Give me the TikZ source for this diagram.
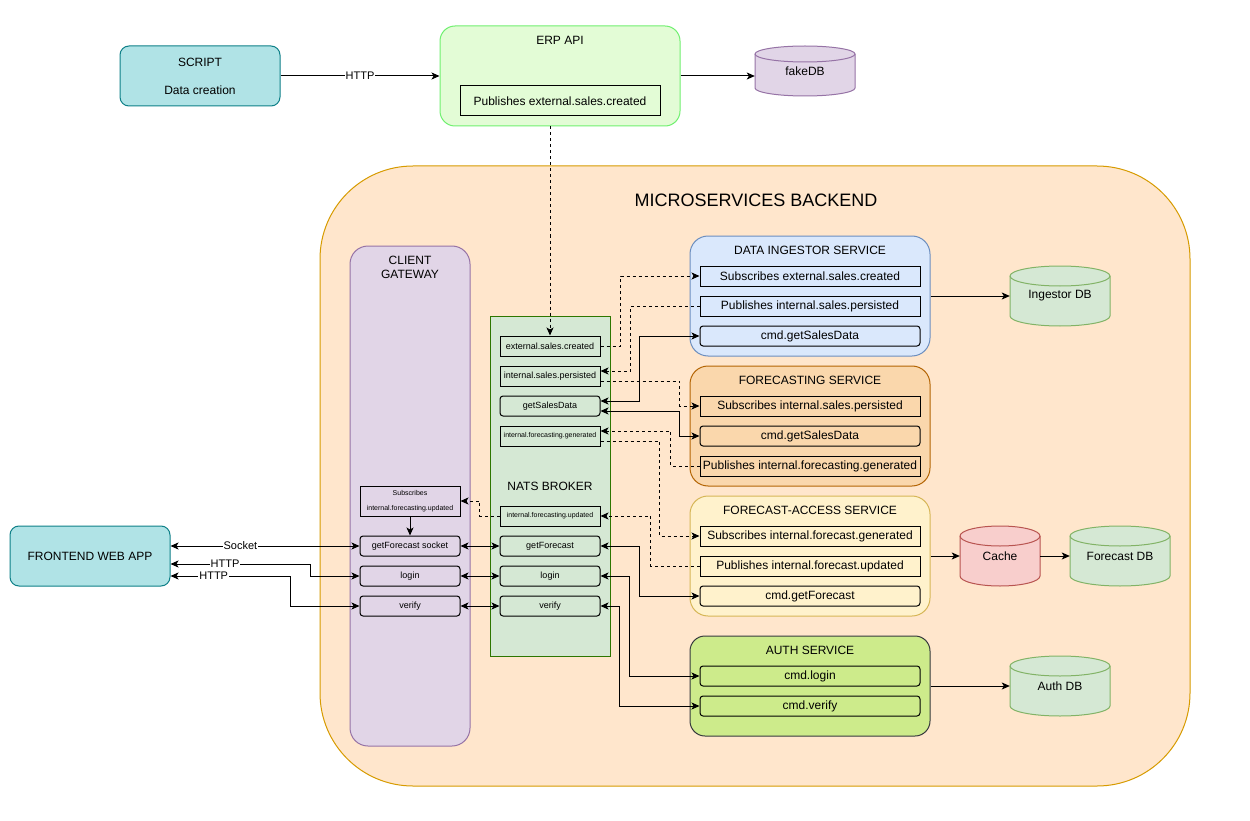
\documentclass[tikz,border=0pt]{standalone}
\usepackage{fontspec}
\setmainfont{Liberation Sans}
\usetikzlibrary{arrows.meta,calc}
\definecolor{cyanF}{HTML}{B0E3E6}\definecolor{cyanD}{HTML}{0E8088}
\definecolor{erpF}{HTML}{E3FCD6}\definecolor{erpD}{HTML}{70F070}
\definecolor{purF}{HTML}{E1D5E7}\definecolor{purD}{HTML}{9673A6}
\definecolor{bkF}{HTML}{FFE6CC}\definecolor{bkD}{HTML}{D79B00}
\definecolor{natF}{HTML}{D5E8D4}\definecolor{natD}{HTML}{2D7600}
\definecolor{bluF}{HTML}{DAE8FC}\definecolor{bluD}{HTML}{6C8EBF}
\definecolor{oraF}{HTML}{FAD7AC}\definecolor{oraD}{HTML}{B46504}
\definecolor{yelF}{HTML}{FFF2CC}\definecolor{yelD}{HTML}{D6B656}
\definecolor{limF}{HTML}{CDEB8B}\definecolor{limD}{HTML}{36393D}
\definecolor{grnF}{HTML}{D5E8D4}\definecolor{grnD}{HTML}{82B366}
\definecolor{redF}{HTML}{F8CECC}\definecolor{redD}{HTML}{B85450}
\newcommand{\fsz}[2]{\fontsize{#1}{#2}\selectfont}
\newcommand{\placebox}[7]{\node[#2, minimum width={(#5)-(#3)}, minimum height={(#6)-(#4)}] (#1) at ({((#3)+(#5))/2},{((#4)+(#6))/2}) {#7};}
% name, cx, cy, rx, half height, ry, fill, draw, text
\newcommand{\dbcyl}[9]{%
  \filldraw[fill=#7, draw=#8, line width=1pt] ({#2-#4},{#3-#5+#6}) -- ({#2-#4},{#3+#5-#6})
    arc[start angle=180, end angle=360, x radius=#4pt, y radius=#6pt] -- ({#2+#4},{#3-#5+#6})
    arc[start angle=0, end angle=180, x radius=#4pt, y radius=#6pt] -- cycle;
  \draw[draw=#8, line width=1pt] ({#2-#4},{#3-#5+#6}) arc[start angle=180, end angle=360, x radius=#4pt, y radius=#6pt];
  \node[minimum width={2*#4}, minimum height={2*#5}, font=\fsz{12}{14}] (#1) at (#2,#3) {#9};}
\begin{document}
\begin{tikzpicture}[x=1pt,y=-1pt,
  every node/.style={inner sep=0pt, text=black},
  >={Stealth[length=8pt,width=7pt,inset=2pt]},
  ln/.style={line width=1pt, draw=black},
  dsh/.style={ln, dash pattern=on 3pt off 3pt},
  base/.style={draw, line width=1pt, rectangle, font=\fsz{12}{14}},
  sitem/.style={base, minimum width=220pt, minimum height=20pt},
  ritem/.style={sitem, rounded corners=3pt},
  nsq/.style={base, font=\fsz{9}{11}},
  nrd/.style={nsq, rounded corners=3pt},
  ttl/.style={font=\fsz{12}{14}},
  lbl/.style={font=\fsz{11}{13}, fill=white, inner sep=1pt},
]
\useasboundingbox (0,0) rectangle (1250,821);
\fill[white] (0,0) rectangle (1250,821);

% top row
\placebox{script}{base, fill=cyanF, draw=cyanD, rounded corners=9pt, align=center, font=\fsz{12}{28}}{120}{46}{280}{106}{SCRIPT\\Data creation}
\placebox{erp}{base, fill=erpF, draw=erpD, rounded corners=15pt}{440}{26}{680}{126}{}
\node[ttl] (erpT) at (560,40) {ERP API};
\placebox{erpPub}{base, fill=erpF}{460}{86}{660}{116}{Publishes external.sales.created}
\dbcyl{fake}{805}{71}{50}{25}{8}{purF}{purD}{fakeDB}

% backend
\placebox{bk}{base, fill=bkF, draw=bkD, rounded corners=93pt}{320}{166}{1190}{786}{}
\node[font=\fsz{18}{21}] (bkT) at (756,200) {MICROSERVICES BACKEND};

% gateway
\placebox{gw}{base, fill=purF, draw=purD, rounded corners=18pt}{350}{246}{470}{746}{}
\node[ttl, align=center] (gwT) at (410,267) {CLIENT\\GATEWAY};
\placebox{gSub}{nsq, fill=purF, align=center, font=\fsz{7}{15}}{360}{486}{460}{516}{Subscribes\\internal.forecasting.updated}
\placebox{gSock}{nrd, fill=purF}{360}{536}{460}{556}{getForecast socket}
\placebox{gLg}{nrd, fill=purF}{360}{566}{460}{586}{login}
\placebox{gVf}{nrd, fill=purF}{360}{596}{460}{616}{verify}

% NATS
\placebox{nats}{base, fill=natF, draw=natD}{490}{316}{610}{656}{}
\node[ttl] (natsT) at (550,486) {NATS BROKER};
\placebox{nExt}{nsq, fill=natF}{500}{336}{600}{356}{external.sales.created}
\placebox{nIsp}{nsq, fill=natF}{500}{366}{600}{386}{internal.sales.persisted}
\placebox{nGsd}{nrd, fill=natF}{500}{396}{600}{416}{getSalesData}
\placebox{nIfg}{nsq, fill=natF, font=\fsz{7}{8}}{500}{426}{600}{446}{internal.forecasting.generated}
\placebox{nIfu}{nsq, fill=natF, font=\fsz{7}{8}}{500}{506}{600}{526}{internal.forecasting.updated}
\placebox{nGf}{nrd, fill=natF}{500}{536}{600}{556}{getForecast}
\placebox{nLg}{nrd, fill=natF}{500}{566}{600}{586}{login}
\placebox{nVf}{nrd, fill=natF}{500}{596}{600}{616}{verify}

% data ingestor
\placebox{di}{base, fill=bluF, draw=bluD, rounded corners=18pt}{690}{236}{930}{356}{}
\node[ttl] (diT) at (810,250) {DATA INGESTOR SERVICE};
\placebox{diSub}{sitem, fill=bluF}{700}{266}{920}{286}{Subscribes external.sales.created}
\placebox{diPub}{sitem, fill=bluF}{700}{296}{920}{316}{Publishes internal.sales.persisted}
\placebox{diCmd}{ritem, fill=bluF}{700}{326}{920}{346}{cmd.getSalesData}

% forecasting
\placebox{fc}{base, fill=oraF, draw=oraD, rounded corners=18pt}{690}{366}{930}{486}{}
\node[ttl] (fcT) at (810,380) {FORECASTING SERVICE};
\placebox{fcSub}{sitem, fill=oraF}{700}{396}{920}{416}{Subscribes internal.sales.persisted}
\placebox{fcCmd}{ritem, fill=oraF}{700}{426}{920}{446}{cmd.getSalesData}
\placebox{fcPub}{sitem, fill=oraF}{700}{456}{920}{476}{Publishes internal.forecasting.generated}

% forecast access
\placebox{fa}{base, fill=yelF, draw=yelD, rounded corners=18pt}{690}{496}{930}{616}{}
\node[ttl] (faT) at (810,510) {FORECAST-ACCESS SERVICE};
\placebox{faSub}{sitem, fill=yelF}{700}{526}{920}{546}{Subscribes internal.forecast.generated}
\placebox{faPub}{sitem, fill=yelF}{700}{556}{920}{576}{Publishes internal.forecast.updated}
\placebox{faCmd}{ritem, fill=yelF}{700}{586}{920}{606}{cmd.getForecast}

% auth
\placebox{au}{base, fill=limF, draw=limD, rounded corners=15pt}{690}{636}{930}{736}{}
\node[ttl] (auT) at (810,650) {AUTH SERVICE};
\placebox{auLg}{ritem, fill=limF}{700}{666}{920}{686}{cmd.login}
\placebox{auVf}{ritem, fill=limF}{700}{696}{920}{716}{cmd.verify}

% databases
\dbcyl{ingDB}{1060}{296}{50}{30}{10}{grnF}{grnD}{Ingestor DB}
\dbcyl{cache}{1000}{556}{40}{30}{10}{redF}{redD}{Cache}
\dbcyl{fDB}{1120}{556}{50}{30}{10}{grnF}{grnD}{Forecast DB}
\dbcyl{auDB}{1060}{686}{50}{30}{10}{grnF}{grnD}{Auth DB}

% frontend
\placebox{fe}{base, fill=cyanF, draw=cyanD, rounded corners=9pt}{10}{526}{170}{586}{FRONTEND WEB APP}

% connectors: top
\draw[ln,->] (script.east) -- node[lbl]{HTTP} (erp.west);
\draw[ln,->] (erp.east) -- (erp.east -| fake.west);
\draw[dsh,->] (nExt.north |- erp.south) -- (nExt.north);

% services to databases
\draw[ln,->] (di.east) -- (ingDB.west);
\draw[ln,->] (fa.east) -- (cache.west);
\draw[ln,->] (cache.east) -- (fDB.west);
\draw[ln,->] (au.east) -- (auDB.west);

% NATS <-> services
\draw[dsh,->] (nExt.east) -- ++(20,0) |- (diSub.west);
\draw[dsh,->] (diPub.west) -| ($(nIsp.east)+(30,-5)$) -- ($(nIsp.east)+(0,-5)$);
\draw[dsh,->] ($(nIsp.east)+(0,5)$) -| ($(fcSub.west)+(-20,0)$) -- (fcSub.west);
\draw[ln,<->] ($(nGsd.east)+(0,-5)$) -| ($(diCmd.west)+(-60,0)$) -- (diCmd.west);
\draw[ln,<->] ($(nGsd.east)+(0,5)$) -| ($(fcCmd.west)+(-20,0)$) -- (fcCmd.west);
\draw[dsh,->] (fcPub.west) -| ($(nIfg.east)+(70,-5)$) -- ($(nIfg.east)+(0,-5)$);
\draw[dsh,->] ($(nIfg.east)+(0,5)$) -| ($(faSub.west)+(-40,0)$) -- (faSub.west);
\draw[dsh,->] (faPub.west) -| ($(nIfu.east)+(50,0)$) -- (nIfu.east);
\draw[ln,<->] (nGf.east) -| ($(faCmd.west)+(-60,0)$) -- (faCmd.west);
\draw[ln,<->] (nLg.east) -| ($(auLg.west)+(-70,0)$) -- (auLg.west);
\draw[ln,<->] (nVf.east) -| ($(auVf.west)+(-80,0)$) -- (auVf.west);

% gateway <-> NATS
\draw[dsh,->] (nIfu.west) -- ++(-20,0) |- (gSub.east);
\draw[ln,->] (gSub.south) -- (gSock.north);
\draw[ln,<->] (gSock.east) -- (nGf.west);
\draw[ln,<->] (gLg.east) -- (nLg.west);
\draw[ln,<->] (gVf.east) -- (nVf.west);

% frontend <-> gateway
\draw[ln,<->] ($(fe.east)+(0,-10)$) -- node[lbl,pos=0.37]{Socket} (gSock.west);
\draw[ln,<->] ($(fe.east)+(0,8)$) -- node[lbl,pos=0.39]{HTTP} ++(140,0) |- (gLg.west);
\draw[ln,<->] ($(fe.east)+(0,20)$) -- node[lbl,pos=0.36]{HTTP} ++(120,0) |- (gVf.west);
\end{tikzpicture}
\end{document}
